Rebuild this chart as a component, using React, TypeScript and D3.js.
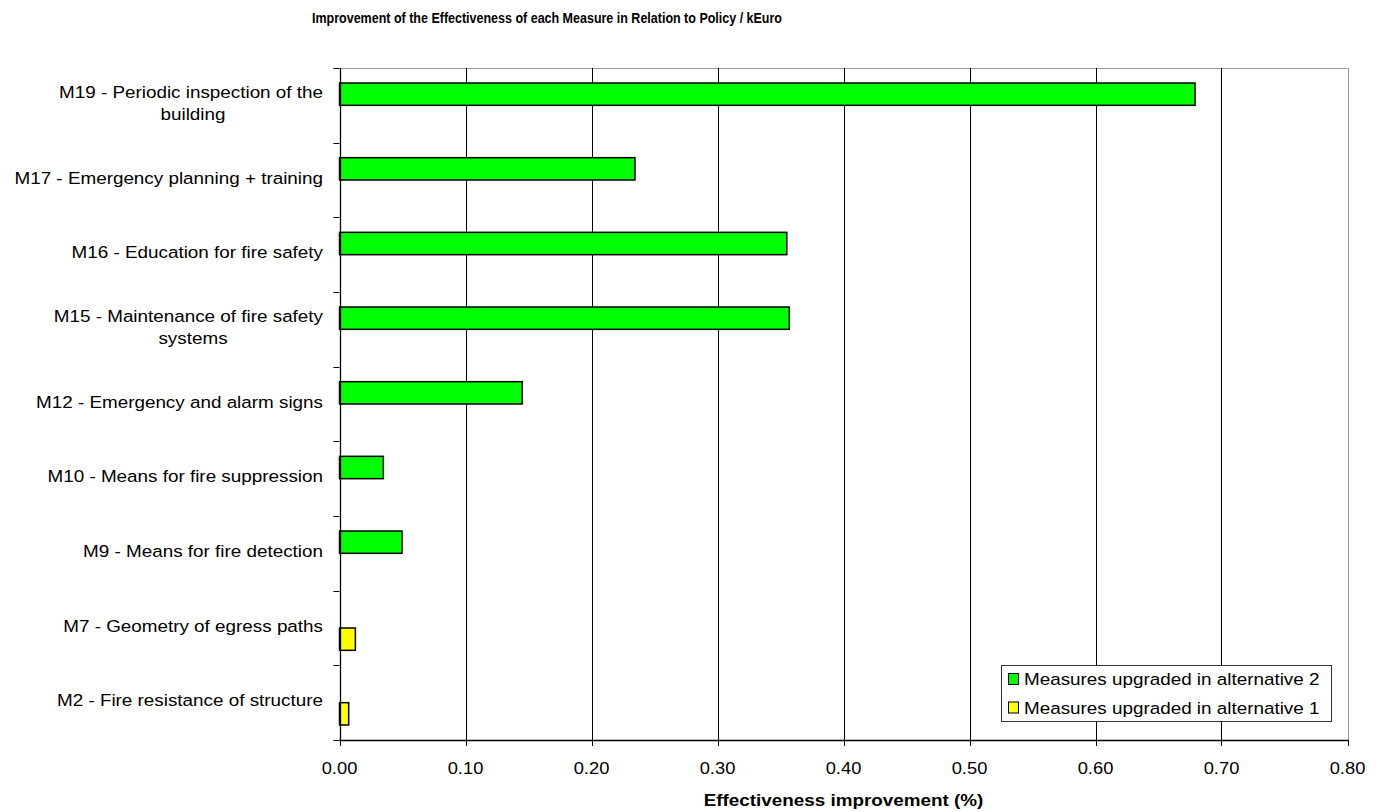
import React from "react";
import * as d3 from "d3";

const categories = [
  "M19 - Periodic inspection of the|building",
  "M17 - Emergency planning + training",
  "M16 - Education for fire safety",
  "M15 - Maintenance of fire safety|systems",
  "M12 - Emergency and alarm signs",
  "M10 - Means for fire suppression",
  "M9 - Means for fire detection",
  "M7 - Geometry of egress paths",
  "M2 - Fire resistance of structure",
];
const alt2Values: (number | null)[] = [0.679, 0.2345, 0.355, 0.357, 0.145, 0.0348, 0.0496, null, null];
const alt1Values: (number | null)[] = [null, null, null, null, null, null, null, 0.0126, 0.0073];
const xTicks = [0, 0.1, 0.2, 0.3, 0.4, 0.5, 0.6, 0.7, 0.8];
const seriesNames = ["Measures upgraded in alternative 2", "Measures upgraded in alternative 1"];
const seriesColors = ["#00FF00", "#FFFF00"];
const title = "Improvement of the Effectiveness of each Measure in Relation to Policy / kEuro";
const xTitle = "Effectiveness improvement (%)";

const W = 1376, H = 812;
const FONT = "Arial, 'Liberation Sans', sans-serif";
const SX = 1.11;

function SText(props: { x: number; y: number; anchor?: string; size?: number; weight?: string; children: any }) {
  const { x, y, anchor = "start", size = 17, weight = "normal", children } = props;
  return (
    <text
      transform={`translate(${x},${y}) scale(${SX},1)`}
      textAnchor={anchor}
      fontFamily={FONT}
      fontSize={size}
      fontWeight={weight}
      fill="#000"
    >
      {children}
    </text>
  );
}

export default function App() {
  const x = d3.scaleLinear().domain([0, 0.8]).range([339.5, 1347.5]);
  const y = d3.scaleBand<string>().domain(categories).range([68, 740]).padding(0);
  const sub = d3.scaleBand<string>().domain(["alt2", "alt1"]).range([0, y.bandwidth()]).paddingInner(0).paddingOuter(0.672);

  const series = [
    { key: "alt2", values: alt2Values, color: seriesColors[0] },
    { key: "alt1", values: alt1Values, color: seriesColors[1] },
  ];

  const top = 68, bottom = 740, left = x(0), right = x(0.8);

  return (
    <svg width={W} height={H} style={{ position: "absolute", left: 0, top: 0, display: "block", background: "#fff" }}>
      <rect x={0} y={0} width={W} height={H} fill="#fff" />
      {/* title */}
      <text x={547} y={23} textAnchor="middle" fontFamily={FONT} fontSize={15} fontWeight="bold" textLength={470} lengthAdjust="spacingAndGlyphs">
        {title}
      </text>
      {/* plot border */}
      <line x1={left} x2={right} y1={top + 0.5} y2={top + 0.5} stroke="#999" strokeWidth={1} />
      <line x1={Math.round(right) + 0.5} x2={Math.round(right) + 0.5} y1={top} y2={bottom} stroke="#999" strokeWidth={1} />
      {/* gridlines */}
      {xTicks.slice(1, -1).map((t) => (
        <line key={t} x1={Math.round(x(t)) + 0.5} x2={Math.round(x(t)) + 0.5} y1={top} y2={bottom} stroke="#000" strokeWidth={1} />
      ))}
      {/* bars */}
      {series.map((s) =>
        s.values.map((v, i) =>
          v == null ? null : (
            <rect
              key={s.key + i}
              x={x(0)}
              y={(y(categories[i]) as number) + (sub(s.key) as number)}
              width={x(v) - x(0)}
              height={sub.bandwidth()}
              fill={s.color}
              stroke="#000"
              strokeWidth={1.5}
            />
          )
        )
      )}
      {/* axes */}
      <line x1={Math.round(left) + 0.5} x2={Math.round(left) + 0.5} y1={top} y2={bottom} stroke="#000" strokeWidth={1.3} />
      <line x1={left} x2={right + 1} y1={bottom + 0.5} y2={bottom + 0.5} stroke="#000" strokeWidth={1.3} />
      {categories.map((c, i) => (
        <line key={"yt" + i} x1={left - 6} x2={left} y1={Math.round(y(c) as number) + 0.5} y2={Math.round(y(c) as number) + 0.5} stroke="#000" />
      ))}
      <line x1={left - 6} x2={left} y1={bottom + 0.5} y2={bottom + 0.5} stroke="#000" />
      {xTicks.map((t) => (
        <g key={"xt" + t}>
          <line x1={Math.round(x(t)) + 0.5} x2={Math.round(x(t)) + 0.5} y1={bottom} y2={bottom + 6} stroke="#000" />
          <SText x={x(t)} y={774} anchor="middle" size={16.5}>
            {d3.format(".2f")(t)}
          </SText>
        </g>
      ))}
      {/* category labels */}
      {categories.map((c) => {
        const lines = c.split("|");
        const cy = (y(c) as number) + y.bandwidth() / 2 - 2.5;
        const lh = 22;
        if (lines.length === 1) {
          return (
            <SText key={c} x={323} y={cy + 6} anchor="end">
              {lines[0]}
            </SText>
          );
        }
        return (
          <g key={c}>
            <SText x={323} y={cy - lh / 2 + 6} anchor="end">
              {lines[0]}
            </SText>
            <SText x={193} y={cy + lh / 2 + 6} anchor="middle">
              {lines[1]}
            </SText>
          </g>
        );
      })}
      {/* x title */}
      <SText x={843.5} y={806} anchor="middle" weight="bold">
        {xTitle}
      </SText>
      {/* legend */}
      <rect x={1001.5} y={665.5} width={330} height={56} fill="#fff" stroke="#333" strokeWidth={1} />
      {seriesNames.map((n, i) => (
        <g key={n}>
          <rect x={1008.5} y={673.5 + i * 28.5} width={10} height={11} fill={seriesColors[i]} stroke="#000" strokeWidth={1} />
          <SText x={1024} y={685 + i * 28.5} anchor="start">
            {n}
          </SText>
        </g>
      ))}
    </svg>
  );
}
